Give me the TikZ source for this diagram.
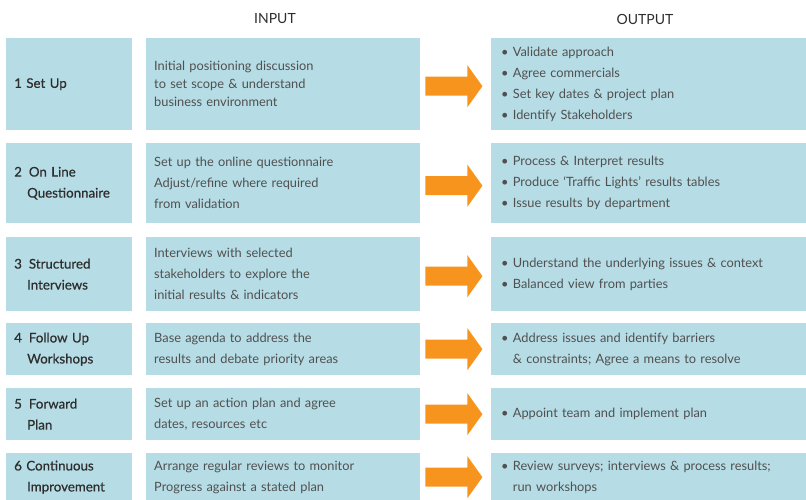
\documentclass[tikz,border=0pt]{standalone}
\usepackage{fontspec}
\setmainfont{Lato}
\newfontfamily\lblfont[FakeBold=0.6]{Lato}
\usepackage{tikz}
\definecolor{boxblue}{HTML}{B6DCE5}
\definecolor{arrorange}{HTML}{F7941D}
\definecolor{txtgray}{HTML}{505050}
\definecolor{lblgray}{HTML}{2E2E2E}
\def\arrowpiece{++(5,-9.5) -- ++(42,0) -- ++(0,-11.5) -- ++(15,21) -- ++(-15,21) -- ++(0,-11.5) -- ++(-42,0) -- cycle}
\def\farr{\fill[arrorange]}
\def\bul{\textbullet\ }
\def\ind{\phantom{\textbullet\ }}
\def\hng{\hspace*{13pt}}

\begin{document}
\begin{tikzpicture}[x=1pt,y=1pt,
    box/.style={fill=boxblue,anchor=north west,inner ysep=0pt,align=left,
                font=\fontsize{12.8}{21}\selectfont},
    stage/.style={box,inner xsep=8pt,text width=110pt,text=lblgray,
                  font=\lblfont\fontsize{13.3}{21}\selectfont},
    inbox/.style={box,inner xsep=8pt,text width=258pt,text=txtgray},
    outbox/.style={box,inner xsep=10pt,text width=295pt,text=txtgray},
    head/.style={font=\fontsize{14}{16}\selectfont,text=lblgray}]
\useasboundingbox (0,0) rectangle (806,-500);

\node[head] (hin)  at (275,-19) {INPUT};
\node[head] (hout) at (645,-19) {OUTPUT};

% row 1
\node[stage,minimum height=92pt]  (st1)  at (6,-38)   {1 Set Up};
\node[inbox,minimum height=92pt,font=\fontsize{12.8}{18}\selectfont] (in1) at (146,-38) {Initial positioning discussion\\to set scope \& understand\\business environment};
\node[outbox,minimum height=92pt] (out1) at (491,-38) {\bul Validate approach\\\bul Agree commercials\\\bul Set key dates \& project plan\\\bul Identify Stakeholders};
\farr ([yshift=-2pt]in1.east) \arrowpiece;

% row 2
\node[stage,minimum height=80pt]  (st2)  at (6,-143)   {2\hspace{7pt}On Line\\\hng Questionnaire};
\node[inbox,minimum height=80pt]  (in2)  at (146,-143) {Set up the online questionnaire\\Adjust/refine where required\\from validation};
\node[outbox,minimum height=80pt] (out2) at (491,-143) {\bul Process \& Interpret results\\\bul Produce `Traffic Lights' results tables\\\bul Issue results by department};
\farr ([yshift=-2.5pt]in2.east) \arrowpiece;

% row 3
\node[stage,minimum height=74pt]  (st3)  at (6,-237)   {3\hspace{7pt}Structured\\\hng Interviews};
\node[inbox,minimum height=74pt]  (in3)  at (146,-237) {Interviews with selected\\stakeholders to explore the\\initial results \& indicators};
\node[outbox,minimum height=74pt] (out3) at (491,-237) {\bul Understand the underlying issues \& context\\\bul Balanced view from parties};
\farr ([yshift=-2pt]in3.east) \arrowpiece;

% row 4
\node[stage,minimum height=52pt]  (st4)  at (6,-323)   {4\hspace{7pt}Follow Up\\\hng Workshops};
\node[inbox,minimum height=52pt]  (in4)  at (146,-323) {Base agenda to address the\\results and debate priority areas};
\node[outbox,minimum height=52pt] (out4) at (491,-323) {\bul Address issues and identify barriers\\\ind\& constraints; Agree a means to resolve};
\farr (in4.east) \arrowpiece;

% row 5
\node[stage,minimum height=52pt]  (st5)  at (6,-388)   {5\hspace{7pt}Forward\\\hng Plan};
\node[inbox,minimum height=52pt]  (in5)  at (146,-388) {Set up an action plan and agree\\dates, resources etc};
\node[outbox,minimum height=52pt] (out5) at (491,-388) {\bul Appoint team and implement plan};
\farr (in5.east) \arrowpiece;

% row 6
\node[stage,minimum height=48pt]  (st6)  at (6,-453)   {6 Continuous\\\hng Improvement};
\node[inbox,minimum height=48pt]  (in6)  at (146,-453) {Arrange regular reviews to monitor\\Progress against a stated plan};
\node[outbox,minimum height=48pt] (out6) at (491,-453) {\bul Review surveys; interviews \& process results;\\\ind run workshops};
\farr (in6.east) \arrowpiece;
\end{tikzpicture}
\end{document}
